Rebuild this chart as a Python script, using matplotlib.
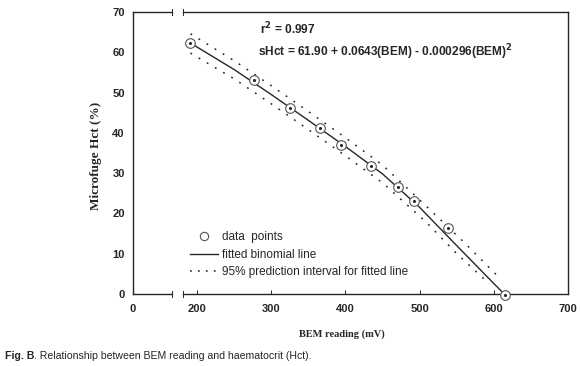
import numpy as np
import matplotlib
matplotlib.use("Agg")
import matplotlib.pyplot as plt
from matplotlib.lines import Line2D

# data
bem = [190, 276, 325, 365, 394, 435, 471, 492, 538, 615]
hct = [62.4, 53.2, 46.2, 41.2, 37.1, 31.7, 26.5, 23.0, 16.3, -0.3]

fit_x = [190, 250, 300, 350, 400, 450, 500, 550, 600, 614]
fit_y = [62.4, 55.7, 49.5, 43.1, 36.6, 29.8, 21.5, 12.0, 2.6, 0.0]

up_x = [191, 250, 300, 350, 400, 450, 509, 560, 606]
up_y = [64.6, 57.9, 51.7, 45.3, 38.8, 32.0, 21.8, 12.8, 4.3]
lo_x = [191, 250, 300, 350, 400, 450, 509, 550, 594]
lo_y = [59.8, 53.4, 47.2, 40.8, 34.3, 27.6, 17.8, 10.0, 2.5]

xticks = [0, 200, 300, 400, 500, 600, 700]
yticks = [0, 10, 20, 30, 40, 50, 60, 70]

col = "#262626"
sans = "Liberation Sans"
serif = "Liberation Serif"

# broken x axis: values below 180 are squeezed
BRK = 180.0
K = 66.5 / 180.0


def fwd(x):
    x = np.asarray(x, dtype=float)
    return np.where(x >= BRK, x, BRK - (BRK - x) * K)


def inv(p):
    p = np.asarray(p, dtype=float)
    return np.where(p >= BRK, p, BRK - (BRK - p) / K)


fig = plt.figure(figsize=(5.8, 3.66), dpi=100)
ax = fig.add_axes([133 / 580, 72 / 366, 435 / 580, 282 / 366])
ax.set_xscale("function", functions=(fwd, inv))
ax.set_xlim(0, 700)
ax.set_ylim(0, 70)

ax.plot(fit_x, fit_y, color=col, lw=1.0, zorder=2)
ax.plot(up_x, up_y, color=col, lw=1.1, ls=(0, (1.2, 5)), zorder=2)
ax.plot(lo_x, lo_y, color=col, lw=1.1, ls=(0, (1.2, 5)), zorder=2)
ax.scatter(bem, hct, s=48, facecolor="white", edgecolor="#555555", linewidth=0.8, zorder=3, clip_on=False)
ax.scatter(bem, hct, s=1.5, color=col, zorder=4, clip_on=False)

# spines with break marks
for s in ["top", "bottom"]:
    ax.spines[s].set_visible(False)
for s in ["left", "right"]:
    ax.spines[s].set_color(col)
    ax.spines[s].set_linewidth(1.0)
tr = ax.get_xaxis_transform()
for yy in [0, 1]:
    ax.plot([0, 143], [yy, yy], color=col, lw=1.0, transform=tr, clip_on=False)
    ax.plot([181, 700], [yy, yy], color=col, lw=1.0, transform=tr, clip_on=False)
    for xb in [143, 181]:
        ax.plot([xb, xb], [yy - 0.012, yy + 0.012], color=col, lw=0.7, transform=tr, clip_on=False)

ax.set_xticks(xticks)
ax.set_yticks(yticks)
ax.xaxis.set_minor_locator(matplotlib.ticker.NullLocator())
ax.tick_params(axis="x", direction="in", length=3, width=0.7, color=col, pad=7)
ax.tick_params(axis="y", length=0, pad=6)
for lab in ax.get_xticklabels() + ax.get_yticklabels():
    lab.set_fontfamily(sans)
    lab.set_fontweight("bold")
    lab.set_fontsize(8)
    lab.set_color(col)

ax.set_xlabel("BEM reading (mV)", fontfamily=serif, fontweight="bold", fontsize=7.5,
              color=col)
ax.xaxis.set_label_coords(0.48, -0.125)
ax.set_ylabel("Microfuge Hct (%)", fontfamily=serif, fontweight="bold", fontsize=9.5,
              color=col)
ax.yaxis.set_label_coords(-0.072, 0.49)

ax.text(0.292, 0.94, r"r$^{\mathbf{2}}$ = 0.997", transform=ax.transAxes, fontfamily=sans,
        fontweight="bold", fontsize=8.6, color=col, va="center")
ax.text(0.287, 0.858, r"sHct = 61.90 + 0.0643(BEM) - 0.000296(BEM)$^{\mathbf{2}}$",
        transform=ax.transAxes, fontfamily=sans, fontweight="bold", fontsize=8.6,
        color=col, va="center")

handles = [
    Line2D([], [], ls="none", marker="o", mfc="white", mec="#555555", ms=6, mew=0.8),
    Line2D([], [], color=col, lw=1.0),
    Line2D([], [], color=col, lw=1.1, ls=(0, (1.2, 4))),
]
labels = ["data  points", "fitted binomial line", "95% prediction interval for fitted line"]
leg = ax.legend(handles, labels, loc="lower left", bbox_to_anchor=(0.12, 0.04),
                frameon=False, prop={"family": sans, "size": 8.5}, handlelength=2.4,
                handletextpad=0.3, labelspacing=0.45, borderaxespad=0)
for t in leg.get_texts():
    t.set_color(col)

cap = fig.text(5 / 580, 1 - 356 / 366, "Fig. B", fontfamily=sans, fontweight="bold",
               fontsize=7.6, color=col, va="center")
ax.annotate(". Relationship between BEM reading and haematocrit (Hct).", xy=(1, 0.5),
            xycoords=cap, va="center", fontfamily=sans, fontsize=7.6, color=col,
            annotation_clip=False)

fig.savefig("out.png", dpi=100)
